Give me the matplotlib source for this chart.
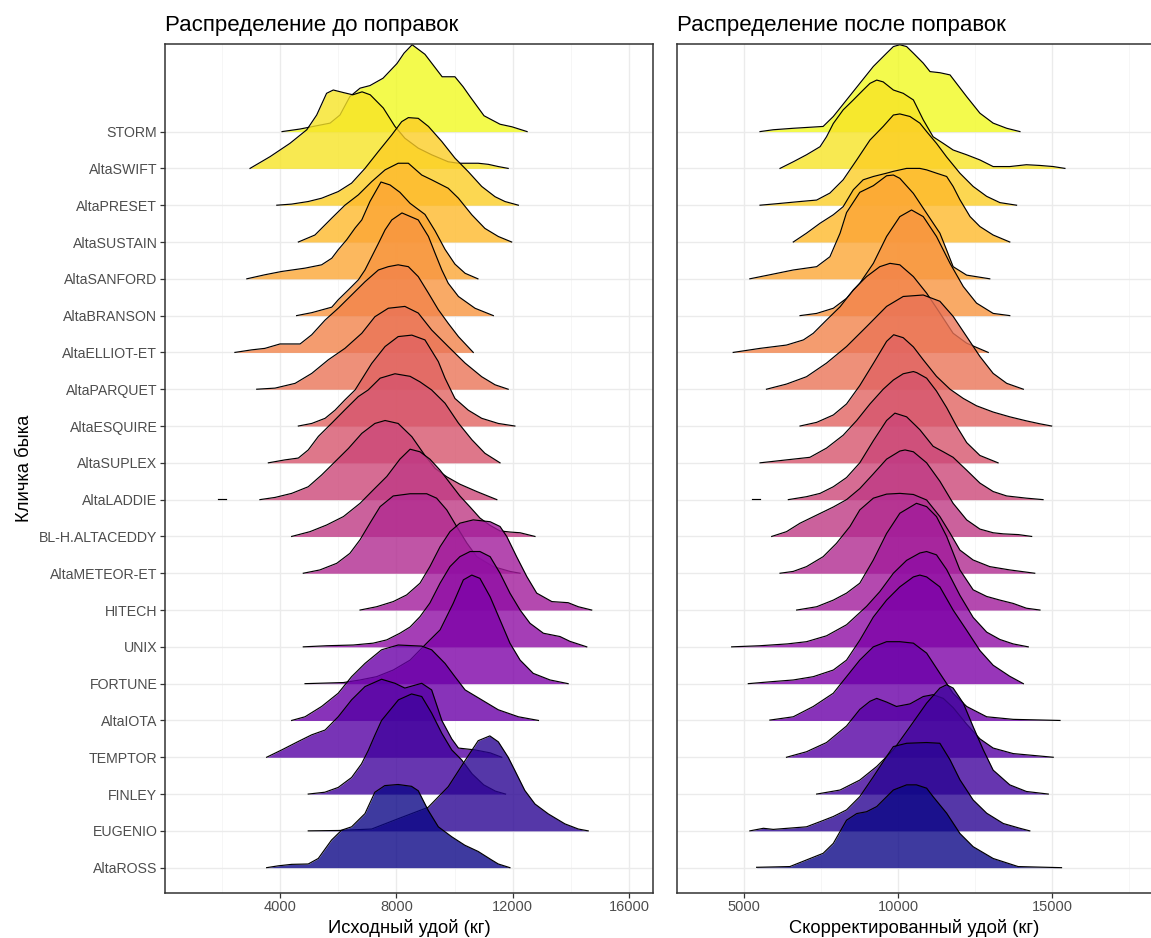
import numpy as np
import matplotlib
matplotlib.use("Agg")
import matplotlib.pyplot as plt
from matplotlib.ticker import MultipleLocator

plt.rcParams['font.family'] = ['Liberation Sans', 'DejaVu Sans']

# --- Data: ridge outlines ---------------------------------------------------
# x = yield (kg), h = ridge height above the row baseline (in row units)
BULLS = ["AltaROSS", "EUGENIO", "FINLEY", "TEMPTOR", "AltaIOTA", "FORTUNE", "UNIX",
         "HITECH", "AltaMETEOR-ET", "BL-H.ALTACEDDY", "AltaLADDIE", "AltaSUPLEX",
         "AltaESQUIRE", "AltaPARQUET", "AltaELLIOT-ET", "AltaBRANSON", "AltaSANFORD",
         "AltaSUSTAIN", "AltaPRESET", "AltaSWIFT", "STORM"]

# before corrections
ross_b_x = [3540, 3940, 4400, 4970, 5315, 5770, 6120, 6460, 6920, 7260, 7600, 8060, 8520, 8750, 9090, 9440, 9900, 10350, 10810, 11270, 11500, 11900]
ross_b_h = [0, 0.05, 0.09, 0.10, 0.25, 0.75, 1.02, 1.11, 1.47, 2.05, 2.23, 2.26, 2.21, 2.09, 1.56, 1.11, 0.84, 0.61, 0.44, 0.21, 0.10, 0]
eugenio_b_x = [4970, 6000, 7150, 8060, 9090, 9780, 10350, 10810, 11210, 11500, 11840, 12070, 12410, 12760, 13220, 13790, 14250, 14590]
eugenio_b_h = [0, 0.01, 0.05, 0.33, 0.64, 1.2, 1.9, 2.45, 2.58, 2.42, 2.0, 1.64, 1.1, 0.73, 0.46, 0.19, 0.05, 0]
finley_b_x = [4970, 5540, 6000, 6460, 6800, 7030, 7260, 7490, 8070, 8520, 8870, 9210, 9560, 9900, 10240, 10600, 11000, 11400, 11750]
finley_b_h = [0, 0.05, 0.18, 0.45, 0.82, 1.18, 1.6, 2.0, 2.56, 2.72, 2.65, 2.2, 1.65, 1.2, 0.93, 0.55, 0.25, 0.08, 0]
temptor_b_x = [3540, 4060, 4630, 5090, 5550, 6000, 6460, 6920, 7490, 7950, 8290, 8870, 9210, 9560, 9900, 10130, 10700, 11220, 11620]
temptor_b_h = [0, 0.2, 0.43, 0.61, 0.74, 1.1, 1.56, 1.92, 2.12, 2.01, 1.88, 2.01, 1.83, 1.0, 0.5, 0.25, 0.2, 0.12, 0]
iota_b_x = [4400, 4860, 5430, 6000, 6460, 6920, 7490, 8060, 8870, 9210, 9670, 10010, 10360, 10930, 11500, 12190, 12880]
iota_b_h = [0, 0.10, 0.38, 0.74, 1.19, 1.55, 1.92, 2.05, 2.02, 1.92, 1.55, 1.19, 0.83, 0.56, 0.29, 0.10, 0]
fortune_b_x = [4860, 6180, 6750, 7320, 7890, 8470, 9040, 9500, 9950, 10300, 10590, 10870, 11220, 11560, 11900, 12250, 12700, 13280, 13900]
fortune_b_h = [0, 0.03, 0.10, 0.19, 0.37, 0.64, 1.10, 1.46, 2.18, 2.82, 2.95, 2.86, 2.36, 1.73, 1.10, 0.64, 0.28, 0.10, 0]
unix_b_x = [4800, 5600, 6520, 7200, 7670, 8120, 8470, 8810, 9150, 9500, 9840, 10180, 10530, 10870, 11220, 11560, 11900, 12250, 12590, 13050, 13620, 13960, 14540]
unix_b_h = [0, 0.03, 0.05, 0.10, 0.19, 0.37, 0.54, 0.82, 1.19, 1.73, 2.18, 2.45, 2.59, 2.59, 2.45, 2.0, 1.46, 1.0, 0.64, 0.37, 0.28, 0.15, 0]
hitech_b_x = [6750, 7320, 7890, 8350, 8810, 9150, 9500, 9840, 10180, 10640, 11220, 11560, 11790, 12130, 12480, 12820, 13340, 13900, 14250, 14710]
hitech_b_h = [0, 0.09, 0.23, 0.41, 0.73, 1.18, 1.72, 2.13, 2.36, 2.45, 2.4, 2.27, 2.0, 1.45, 0.91, 0.46, 0.23, 0.2, 0.09, 0]
meteor_b_x = [4800, 5370, 5950, 6400, 6750, 7090, 7440, 7890, 8470, 9040, 9380, 9730, 10070, 10420, 10760, 11330, 11900, 12250]
meteor_b_h = [0, 0.09, 0.27, 0.54, 0.91, 1.36, 1.81, 2.1, 2.16, 2.16, 2.04, 1.72, 1.27, 0.82, 0.45, 0.18, 0.05, 0]
ceddy_b_x = [4400, 5030, 5600, 6180, 6750, 7200, 7670, 8120, 8470, 8810, 9150, 9500, 9840, 10180, 10530, 10870, 11220, 11560, 11900, 12250, 12760]
ceddy_b_h = [0, 0.13, 0.31, 0.54, 0.9, 1.26, 1.63, 2.1, 2.37, 2.3, 2.1, 1.8, 1.45, 1.1, 0.8, 0.5, 0.3, 0.15, 0.12, 0.1, 0]
laddie_b_x = [3310, 3830, 4400, 4970, 5430, 5890, 6350, 6810, 7260, 7610, 8060, 8530, 8980, 9330, 9730, 10180, 10760, 11450]
laddie_b_h = [0, 0.06, 0.17, 0.35, 0.67, 1.03, 1.39, 1.8, 2.07, 2.15, 2.07, 1.71, 1.2, 0.85, 0.62, 0.42, 0.22, 0]
laddie_b_dash = [1870, 2140]
suplex_b_x = [3600, 4170, 4630, 4970, 5320, 5780, 6230, 6690, 7030, 7440, 7950, 8470, 8810, 9210, 9670, 10130, 10590, 11040, 11560]
suplex_b_h = [0, 0.08, 0.13, 0.35, 0.72, 1.08, 1.44, 1.8, 1.98, 2.3, 2.42, 2.35, 2.2, 1.98, 1.62, 1.08, 0.63, 0.26, 0]
esquire_b_x = [4630, 5090, 5550, 5890, 6230, 6580, 7150, 7610, 8060, 8530, 8980, 9440, 9670, 10010, 10470, 10930, 11500, 12070]
esquire_b_h = [0, 0.07, 0.21, 0.43, 0.71, 0.98, 1.7, 2.16, 2.43, 2.47, 2.34, 1.75, 1.3, 0.75, 0.43, 0.21, 0.07, 0]
parquet_b_x = [3200, 3830, 4520, 5090, 5660, 6230, 6810, 7260, 7720, 8290, 8750, 9210, 9780, 10360, 10930, 11390, 11840]
parquet_b_h = [0, 0.03, 0.16, 0.43, 0.8, 1.11, 1.52, 1.97, 2.2, 2.25, 2.07, 1.61, 1.16, 0.71, 0.34, 0.12, 0]
elliot_b_x = [2450, 3030, 3480, 4000, 4690, 5090, 5550, 6000, 6460, 6920, 7380, 7720, 8060, 8410, 8750, 9100, 9440, 9780, 10130, 10640]
elliot_b_h = [0, 0.07, 0.11, 0.23, 0.23, 0.48, 0.88, 1.2, 1.56, 1.92, 2.24, 2.33, 2.38, 2.33, 2.06, 1.61, 1.16, 0.79, 0.43, 0]
branson_b_x = [4570, 5090, 5780, 6000, 6350, 6690, 6920, 7150, 7380, 7610, 7840, 8190, 8750, 9100, 9330, 9560, 9780, 10130, 10700, 11330]
branson_b_h = [0, 0.08, 0.23, 0.43, 0.7, 0.97, 1.24, 1.6, 1.96, 2.33, 2.6, 2.79, 2.6, 2.15, 1.69, 1.24, 0.88, 0.52, 0.2, 0]
sanford_b_x = [2860, 3480, 4060, 4860, 5430, 5780, 6000, 6290, 6580, 6810, 7090, 7470, 7780, 8120, 8470, 8980, 9330, 9670, 10010, 10360, 10800]
sanford_b_h = [0, 0.11, 0.2, 0.29, 0.38, 0.56, 0.79, 1.06, 1.38, 1.6, 2.1, 2.63, 2.55, 2.35, 2.05, 1.75, 1.3, 0.8, 0.4, 0.15, 0]
sustain_b_x = [4630, 5200, 5780, 6230, 6690, 7150, 7610, 8060, 8410, 8870, 9210, 9780, 10130, 10590, 11040, 11500, 11960]
sustain_b_h = [0, 0.19, 0.65, 1.0, 1.28, 1.64, 1.96, 2.14, 2.14, 1.82, 1.69, 1.46, 1.19, 0.74, 0.37, 0.15, 0]
preset_b_x = [3890, 4400, 4970, 5430, 6000, 6460, 6920, 7380, 7840, 8180, 8410, 8750, 9100, 9560, 10010, 10470, 10930, 11390, 11730, 12190]
preset_b_h = [0, 0.03, 0.10, 0.19, 0.37, 0.60, 1.0, 1.46, 1.91, 2.27, 2.38, 2.36, 2.14, 1.73, 1.28, 0.91, 0.51, 0.23, 0.10, 0]
swift_b_x = [2970, 3660, 4340, 4920, 5260, 5600, 5830, 6180, 6500, 6820, 7100, 7550, 7950, 8290, 8750, 9210, 9780, 10130, 10810, 11160, 11500, 11840]
swift_b_h = [0, 0.32, 0.68, 1.05, 1.45, 2.04, 2.13, 2.06, 2.0, 2.08, 2.0, 1.64, 1.14, 0.82, 0.55, 0.37, 0.18, 0.14, 0.14, 0.11, 0.05, 0]
storm_b_x = [4070, 4690, 5720, 6060, 6400, 6750, 7090, 7540, 8020, 8260, 8540, 8980, 9570, 10010, 10290, 10530, 11010, 11560, 11970, 12490]
storm_b_h = [0, 0.07, 0.23, 0.45, 0.95, 1.18, 1.25, 1.45, 1.85, 2.13, 2.36, 2.1, 1.49, 1.49, 1.22, 0.95, 0.43, 0.2, 0.13, 0]

# after corrections
ross_a_x = [5400, 6480, 7020, 7560, 7890, 8320, 8650, 8970, 9300, 9840, 10270, 10590, 10920, 11130, 11570, 12000, 12430, 13080, 13890, 15300]
ross_a_h = [0.01, 0.03, 0.21, 0.39, 0.66, 1.29, 1.47, 1.52, 1.66, 2.11, 2.25, 2.25, 2.16, 1.93, 1.48, 0.93, 0.57, 0.25, 0.03, 0]
eugenio_a_x = [5180, 5620, 5940, 7020, 7460, 7890, 8320, 8750, 9190, 9620, 9840, 10270, 10920, 11350, 11680, 12000, 12430, 12870, 13410, 13950, 14270]
eugenio_a_h = [0, 0.07, 0.04, 0.11, 0.25, 0.39, 0.57, 0.93, 1.47, 2.02, 2.29, 2.38, 2.4, 2.38, 1.93, 1.39, 0.84, 0.48, 0.2, 0.07, 0]
finley_a_x = [7350, 8110, 8750, 9300, 9840, 10380, 10920, 11350, 11570, 11780, 12110, 12430, 12760, 13080, 13620, 14160, 14870]
finley_a_h = [0, 0.11, 0.38, 0.75, 1.2, 1.83, 2.47, 2.88, 2.97, 2.88, 2.47, 1.83, 1.2, 0.65, 0.25, 0.07, 0]
temptor_a_x = [6370, 7020, 7670, 8320, 8750, 9080, 9300, 9620, 9940, 10380, 10810, 11130, 11460, 11780, 12220, 12650, 13080, 13730, 14380, 15030]
temptor_a_h = [0, 0.15, 0.4, 0.85, 1.3, 1.52, 1.6, 1.5, 1.38, 1.45, 1.65, 1.7, 1.6, 1.35, 0.9, 0.5, 0.25, 0.1, 0.05, 0]
iota_a_x = [5830, 6590, 7240, 7890, 8320, 8750, 9190, 9620, 10050, 10490, 10920, 11350, 11780, 12220, 12870, 13730, 15250]
iota_a_h = [0.01, 0.1, 0.38, 0.74, 1.19, 1.64, 2.0, 2.14, 2.14, 2.1, 1.83, 1.28, 0.74, 0.38, 0.1, 0.03, 0]
fortune_a_x = [5130, 5830, 6590, 7240, 7890, 8320, 8750, 9190, 9620, 10050, 10490, 10700, 10920, 11350, 11780, 12220, 12650, 13080, 13620, 14060]
fortune_a_h = [0, 0.05, 0.1, 0.19, 0.37, 0.64, 1.18, 1.81, 2.27, 2.63, 2.9, 2.95, 2.9, 2.63, 2.0, 1.45, 0.9, 0.5, 0.2, 0]
unix_a_x = [4590, 5500, 6400, 7020, 7670, 8320, 8970, 9400, 9840, 10270, 10700, 10920, 11240, 11570, 12000, 12430, 12870, 13300, 13730, 14220]
unix_a_h = [0, 0.03, 0.08, 0.14, 0.3, 0.6, 1.1, 1.5, 2.0, 2.35, 2.55, 2.59, 2.5, 2.1, 1.4, 0.8, 0.4, 0.2, 0.08, 0]
hitech_a_x = [6700, 7350, 7890, 8320, 8750, 9190, 9620, 10050, 10590, 10920, 11240, 11570, 12000, 12430, 12870, 13300, 13730, 14160, 14600]
hitech_a_h = [0, 0.09, 0.27, 0.46, 0.73, 1.36, 2.08, 2.63, 2.9, 2.81, 2.54, 2.0, 1.09, 0.55, 0.37, 0.27, 0.18, 0.05, 0]
meteor_a_x = [6160, 6590, 7020, 7560, 7990, 8430, 8750, 9190, 9620, 10050, 10490, 10920, 11350, 11680, 12000, 12430, 12970, 13620, 14430]
meteor_a_h = [0, 0.05, 0.18, 0.45, 0.81, 1.27, 1.72, 2.04, 2.15, 2.17, 2.14, 1.99, 1.54, 1.09, 0.63, 0.36, 0.18, 0.09, 0]
ceddy_a_x = [5890, 6370, 6810, 7350, 7890, 8320, 8750, 9190, 9620, 10050, 10220, 10490, 10920, 11350, 11780, 12220, 12650, 13080, 13410, 13900, 14330]
ceddy_a_h = [0, 0.13, 0.36, 0.58, 0.8, 1.0, 1.3, 1.7, 2.1, 2.32, 2.35, 2.3, 2.0, 1.5, 0.9, 0.45, 0.2, 0.1, 0.07, 0.05, 0]
laddie_a_x = [6430, 7020, 7460, 7890, 8320, 8750, 9190, 9620, 9890, 10270, 10700, 11130, 11460, 11780, 12220, 12650, 13080, 13520, 14160, 14700]
laddie_a_h = [0, 0.08, 0.17, 0.35, 0.6, 1.0, 1.6, 2.15, 2.35, 2.25, 1.9, 1.45, 1.3, 1.15, 0.8, 0.45, 0.22, 0.1, 0.04, 0]
laddie_a_dash = [5240, 5510]
suplex_a_x = [5510, 6370, 7130, 7670, 8210, 8650, 9080, 9510, 9840, 10160, 10490, 10600, 10920, 11240, 11570, 11890, 12220, 12650, 13240]
suplex_a_h = [0, 0.08, 0.15, 0.4, 0.75, 1.15, 1.6, 2.0, 2.25, 2.42, 2.48, 2.45, 2.3, 1.95, 1.5, 1.0, 0.55, 0.2, 0]
esquire_a_x = [6810, 7350, 7890, 8320, 8750, 9190, 9620, 9850, 10160, 10490, 10810, 11240, 11680, 12110, 12540, 13080, 13620, 14160, 14600, 14980]
esquire_a_h = [0, 0.1, 0.3, 0.6, 1.1, 1.7, 2.3, 2.48, 2.4, 2.15, 1.8, 1.35, 1.0, 0.75, 0.55, 0.38, 0.25, 0.14, 0.06, 0]
parquet_a_x = [5720, 6370, 7020, 7670, 8320, 8970, 9620, 10160, 10810, 11350, 11780, 12220, 12650, 13080, 13520, 14060]
parquet_a_h = [0, 0.14, 0.34, 0.71, 1.16, 1.7, 2.25, 2.52, 2.56, 2.39, 1.98, 1.43, 0.89, 0.43, 0.16, 0]
elliot_a_x = [4640, 5510, 6370, 6920, 7240, 7670, 8110, 8540, 8970, 9400, 9730, 10050, 10490, 10920, 11350, 11780, 12220, 12920]
elliot_a_h = [0, 0.11, 0.2, 0.34, 0.52, 0.88, 1.24, 1.7, 2.06, 2.33, 2.42, 2.38, 2.06, 1.61, 1.07, 0.52, 0.25, 0]
branson_a_x = [6810, 7350, 7890, 8320, 8750, 9190, 9620, 10050, 10430, 10810, 11240, 11680, 12110, 12540, 13080, 13620]
branson_a_h = [0, 0.06, 0.2, 0.47, 0.88, 1.42, 2.15, 2.69, 2.87, 2.69, 2.15, 1.42, 0.79, 0.34, 0.06, 0]
sanford_a_x = [5180, 5830, 6590, 7350, 7780, 8110, 8320, 8750, 9190, 9620, 9840, 10050, 10490, 10920, 11350, 11570, 11780, 12220, 12970]
sanford_a_h = [0, 0.11, 0.24, 0.33, 0.6, 1.24, 1.8, 2.35, 2.53, 2.8, 2.82, 2.73, 2.32, 1.78, 1.24, 0.78, 0.33, 0.1, 0]
sustain_a_x = [6590, 7020, 7460, 7890, 8210, 8540, 8860, 9190, 9620, 9840, 10270, 10700, 10920, 11240, 11570, 11780, 12000, 12330, 12650, 13080, 13620]
sustain_a_h = [0, 0.24, 0.51, 0.74, 0.96, 1.42, 1.69, 1.78, 1.87, 1.92, 2.0, 2.0, 1.96, 1.87, 1.78, 1.51, 1.15, 0.69, 0.42, 0.19, 0]
preset_a_x = [5510, 6050, 6810, 7350, 7780, 8210, 8650, 9080, 9510, 9840, 10050, 10380, 10700, 10920, 11240, 11570, 12000, 12430, 12870, 13300, 13840]
preset_a_h = [0, 0.04, 0.1, 0.14, 0.33, 0.69, 1.23, 1.77, 2.14, 2.45, 2.48, 2.41, 2.23, 2.0, 1.68, 1.31, 0.87, 0.51, 0.24, 0.07, 0]
swift_a_x = [6160, 6590, 7020, 7460, 7670, 7890, 8210, 8540, 8860, 9080, 9300, 9510, 9840, 10160, 10490, 10810, 11130, 11460, 11780, 12220, 12650, 13080, 13620, 14160, 14600, 15030, 15410]
swift_a_h = [0, 0.18, 0.37, 0.59, 0.86, 1.22, 1.59, 1.86, 2.13, 2.31, 2.4, 2.35, 2.13, 2.04, 1.86, 1.32, 0.86, 0.68, 0.5, 0.37, 0.23, 0.05, 0.05, 0.1, 0.08, 0.05, 0]
storm_a_x = [5510, 5940, 6590, 7560, 7890, 8320, 8750, 9190, 9620, 9840, 10050, 10270, 10490, 10810, 11030, 11350, 11680, 11890, 12220, 12650, 13080, 13520, 13950]
storm_a_h = [0, 0.05, 0.09, 0.14, 0.41, 0.86, 1.31, 1.77, 2.13, 2.31, 2.36, 2.31, 2.13, 1.86, 1.63, 1.6, 1.54, 1.31, 0.95, 0.5, 0.23, 0.09, 0]

BEFORE = [(ross_b_x, ross_b_h), (eugenio_b_x, eugenio_b_h), (finley_b_x, finley_b_h),
          (temptor_b_x, temptor_b_h), (iota_b_x, iota_b_h), (fortune_b_x, fortune_b_h),
          (unix_b_x, unix_b_h), (hitech_b_x, hitech_b_h), (meteor_b_x, meteor_b_h),
          (ceddy_b_x, ceddy_b_h), (laddie_b_x, laddie_b_h), (suplex_b_x, suplex_b_h),
          (esquire_b_x, esquire_b_h), (parquet_b_x, parquet_b_h), (elliot_b_x, elliot_b_h),
          (branson_b_x, branson_b_h), (sanford_b_x, sanford_b_h), (sustain_b_x, sustain_b_h),
          (preset_b_x, preset_b_h), (swift_b_x, swift_b_h), (storm_b_x, storm_b_h)]
AFTER = [(ross_a_x, ross_a_h), (eugenio_a_x, eugenio_a_h), (finley_a_x, finley_a_h),
         (temptor_a_x, temptor_a_h), (iota_a_x, iota_a_h), (fortune_a_x, fortune_a_h),
         (unix_a_x, unix_a_h), (hitech_a_x, hitech_a_h), (meteor_a_x, meteor_a_h),
         (ceddy_a_x, ceddy_a_h), (laddie_a_x, laddie_a_h), (suplex_a_x, suplex_a_h),
         (esquire_a_x, esquire_a_h), (parquet_a_x, parquet_a_h), (elliot_a_x, elliot_a_h),
         (branson_a_x, branson_a_h), (sanford_a_x, sanford_a_h), (sustain_a_x, sustain_a_h),
         (preset_a_x, preset_a_h), (swift_a_x, swift_a_h), (storm_a_x, storm_a_h)]

GRID_MAJOR = "#ebebeb"
GRID_MINOR = "#f5f5f5"
BORDER = "#333333"


def draw_ridges(ax, curves, dash=None):
    cmap = plt.get_cmap("plasma")
    n = len(curves)
    # upper rows first, so lower ridges sit in front
    for i in reversed(range(n)):
        x, h = curves[i]
        x = np.asarray(x, float)
        top = i + 1 + np.asarray(h, float)
        color = cmap(i / (n - 1))
        ax.fill_between(x, i + 1, top, color=color, alpha=0.8, lw=0, zorder=2)
        ax.plot(x, top, color="black", lw=0.85, zorder=2)
        if dash is not None and i == BULLS.index("AltaLADDIE"):
            ax.plot(dash, [i + 1.02, i + 1.02], color="black", lw=0.85, zorder=2)


def style_axes(ax, major, minor, xlim):
    ax.set_xlim(*xlim)
    ax.set_ylim(0.32, 23.38)
    ax.xaxis.set_major_locator(MultipleLocator(major))
    ax.xaxis.set_minor_locator(MultipleLocator(minor))
    ax.set_yticks(range(1, len(BULLS) + 1))
    ax.grid(which="major", color=GRID_MAJOR, lw=1.0, zorder=0)
    ax.grid(which="minor", axis="x", color=GRID_MINOR, lw=0.6, zorder=0)
    ax.set_axisbelow(True)
    for s in ax.spines.values():
        s.set_color(BORDER)
        s.set_linewidth(1.1)
    ax.tick_params(which="major", length=3.5, width=0.9, color=BORDER,
                   labelcolor="#4d4d4d", labelsize=10.5, pad=2)
    ax.tick_params(which="minor", length=0)


fig = plt.figure(figsize=(11.51, 9.38), dpi=100)
W, H = 1151, 938
bottom = (H - 892.7) / H
height = (892.7 - 44) / H

ax1 = fig.add_axes([165 / W, bottom, 488 / W, height])
ax2 = fig.add_axes([676.7 / W, bottom, (W - 676.7) / W, height])

draw_ridges(ax1, BEFORE, dash=laddie_b_dash)
draw_ridges(ax2, AFTER, dash=laddie_a_dash)

style_axes(ax1, 4000, 2000, (48, 16816))
style_axes(ax2, 5000, 2500, (2805, 18205))
ax2.spines["right"].set_visible(False)

ax1.set_yticklabels(BULLS)
ax1.tick_params(axis="y", labelsize=10.2)
ax2.set_yticklabels([])
ax2.tick_params(axis="y", length=0)

ax1.set_title("Распределение до поправок", loc="left", fontsize=16, pad=9)
ax2.set_title("Распределение после поправок", loc="left", fontsize=16, pad=9)
ax1.set_xlabel("Исходный удой (кг)", fontsize=13.2, labelpad=3)
ax2.set_xlabel("Скорректированный удой (кг)", fontsize=13.2, labelpad=3)
ax1.set_ylabel("Кличка быка", fontsize=13.2, labelpad=4)

fig.savefig("out.png", dpi=100)
